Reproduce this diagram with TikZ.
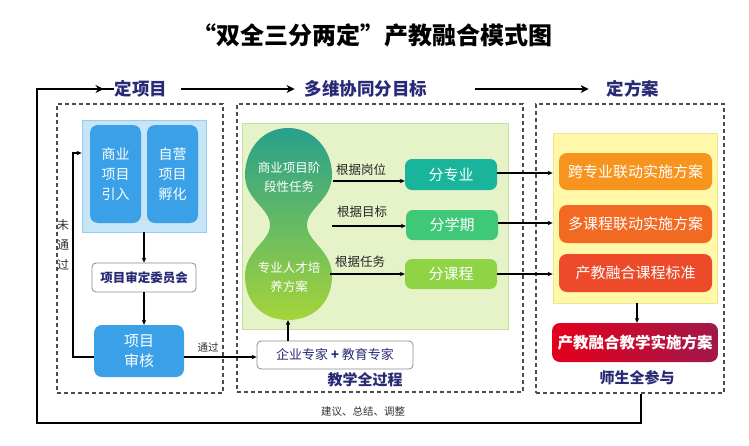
\documentclass[tikz,border=0pt]{standalone}
\usepackage{fontspec}
\setmainfont{Noto Sans CJK SC}
\usetikzlibrary{arrows.meta}
\definecolor{navy}{RGB}{40,42,118}
\definecolor{lbFill}{RGB}{198,230,248}
\definecolor{lbLine}{RGB}{150,205,240}
\definecolor{bBox}{RGB}{58,160,232}
\definecolor{gFill}{RGB}{230,243,200}
\definecolor{gLine}{RGB}{200,222,160}
\definecolor{peaT}{RGB}{40,160,140}
\definecolor{peaM}{RGB}{78,182,100}
\definecolor{peaB}{RGB}{165,212,58}
\definecolor{tealBox}{RGB}{24,180,156}
\definecolor{greenBox}{RGB}{62,200,120}
\definecolor{limeBox}{RGB}{142,212,68}
\definecolor{yFill}{RGB}{255,248,168}
\definecolor{yLine}{RGB}{240,230,140}
\definecolor{or1}{RGB}{247,148,30}
\definecolor{or2}{RGB}{242,106,34}
\definecolor{or3}{RGB}{236,74,40}
\definecolor{redL}{RGB}{228,0,28}
\definecolor{redR}{RGB}{160,24,74}
\begin{document}
\begin{tikzpicture}[x=1pt,y=-1pt,
  dashbox/.style={draw=black!70, dash pattern=on 4pt off 3pt, line width=1.3pt, inner sep=0pt},
  header/.style={text=navy, font=\fontsize{17.5}{17.5}\selectfont\bfseries, inner sep=0pt},
  bigarrow/.style={line width=1.8pt, -{Stealth[length=8pt,width=8pt]}},
  fbline/.style={line width=2.4pt},
  arr/.style={line width=1.2pt, -{Stealth[length=5pt,width=4.5pt]}},
  plain/.style={line width=1.2pt},
  bluebox/.style={fill=bBox, rounded corners=8pt, text=white, align=center, inner sep=0pt, font=\fontsize{14}{20}\selectfont},
  wbox/.style={draw=black!45, fill=white, rounded corners=4pt, line width=0.8pt, inner sep=0pt, align=center},
  gbox/.style={rounded corners=7pt, text=white, inner sep=0pt, minimum width=92pt, font=\fontsize{15}{15}\selectfont},
  obox/.style={rounded corners=8pt, text=white, inner sep=0pt, minimum width=153pt, font=\fontsize{15}{15}\selectfont},
  lbl/.style={text=black!85, inner sep=0pt, font=\fontsize{12.5}{12.5}\selectfont},
  foot/.style={text=navy, inner sep=0pt, font=\fontsize{15}{15}\selectfont\bfseries}
]
\useasboundingbox (0,0) rectangle (749,445);
\fill[white] (0,0) rectangle (749,445);

% title
\node[inner sep=0pt, font=\fontsize{24}{24}\selectfont\bfseries] (title) at (372,35) {“双全三分两定”产教融合模式图};

% headers
\node[header] (hA) at (141,89) {定项目};
\node[header] (hB) at (366,89) {多维协同分目标};
\node[header] (hC) at (633,89) {定方案};
\draw[bigarrow] ([xshift=14pt]hA.east) -- ([xshift=-10pt]hB.west);
\draw[bigarrow] ([xshift=48pt]hB.east) -- ([xshift=-18pt]hC.west);

% dashed boxes
\node[dashbox, minimum width=166pt, minimum height=289pt] (boxL) at (140,248.5) {};
\node[dashbox, minimum width=286pt, minimum height=288pt] (boxM) at (380,248) {};
\node[dashbox, minimum width=188pt, minimum height=289pt] (boxR) at (630,248.5) {};

% left column
\node[fill=lbFill, draw=lbLine, line width=0.8pt, minimum width=124pt, minimum height=112pt, inner sep=0pt] (bluePanel) at (144,176) {};
\node[bluebox, minimum width=51pt, minimum height=98pt] (bizIn) at (115.5,174) {商业\\项目\\引入};
\node[bluebox, minimum width=51pt, minimum height=98pt] (selfIn) at (172.5,174) {自营\\项目\\孵化};
\node[wbox, minimum width=104pt, minimum height=29pt, text=navy, font=\fontsize{12.5}{12.5}\selectfont\bfseries] (committee) at (144,277.5) {项目审定委员会};
\node[bluebox, minimum width=90pt, minimum height=52pt, font=\fontsize{15}{20}\selectfont] (review) at (139,351) {项目\\审核};
\draw[arr] (bluePanel.south) -- (committee.north);
\draw[arr] (committee.south) -- (committee.south |- review.north);
\coordinate (nl) at (73,153);
\draw[arr] ([yshift=-6pt]review.west) -| (nl) -- (nl -| bluePanel.west);
\node[inner sep=0pt, align=center, text=black!80, font=\fontsize{12}{20}\selectfont] (notpass) at (63,245) {未\\通\\过};

% middle column
\node[fill=gFill, draw=gLine, line width=0.8pt, minimum width=266pt, minimum height=206pt, inner sep=0pt] (greenPanel) at (375,226) {};
\shade[top color=peaT, middle color=peaM, bottom color=peaB]
  (288,128) .. controls (314,128) and (332,150) .. (332,175)
  .. controls (332,200) and (307,208) .. (307,225)
  .. controls (307,242) and (332,250) .. (332,276)
  .. controls (332,302) and (314,320) .. (288,320)
  .. controls (262,320) and (245,302) .. (245,276)
  .. controls (245,250) and (270,242) .. (270,225)
  .. controls (270,208) and (245,200) .. (245,175)
  .. controls (245,150) and (262,128) .. (288,128) -- cycle;
\coordinate (pnB) at (288,320);
\node[inner sep=0pt, align=center, text=white, font=\fontsize{12.5}{19}\selectfont] (pTop) at (289,177) {商业项目阶\\段性任务};
\node[inner sep=0pt, align=center, text=white, font=\fontsize{12.5}{19}\selectfont] (pBot) at (289,277) {专业人才培\\养方案};

\node[gbox, fill=tealBox, minimum height=31pt] (b1) at (451,174.5) {分专业};
\node[gbox, fill=greenBox, minimum height=30pt] (b2) at (452,225) {分学期};
\node[gbox, fill=limeBox, minimum height=30pt] (b3) at (451,274) {分课程};

\coordinate (a1) at (333,181);
\coordinate (a2) at (332,226);
\coordinate (a3) at (330,274);
\draw[arr] (a1) -- (a1 -| b1.west);
\draw[arr] (a2) -- (a2 -| b2.west);
\draw[arr] (a3) -- (a3 -| b3.west);
\node[lbl] (l1) at (361,170) {根据岗位};
\node[lbl] (l2) at (362,212) {根据目标};
\node[lbl] (l3) at (360,262) {根据任务};

\node[wbox, minimum width=156pt, minimum height=28pt, text=navy, font=\fontsize{13}{13}\selectfont] (experts) at (335,355) {企业专家 \textbf{+} 教育专家};
\draw[arr] (experts.north -| pnB) -- (pnB);
\draw[arr] ([yshift=-6pt]review.east) -- ([yshift=-6pt]review.east -| experts.west);
\node[inner sep=0pt, text=black!80, font=\fontsize{10.5}{10.5}\selectfont] (pass) at (208,347) {通过};
\node[foot] (whole) at (365,380) {教学全过程};

% right column
\node[fill=yFill, draw=yLine, line width=0.8pt, minimum width=164pt, minimum height=170pt, inner sep=0pt] (yellowPanel) at (635,218) {};
\node[obox, fill=or1, minimum height=37pt] (o1) at (635.5,171.5) {跨专业联动实施方案};
\node[obox, fill=or2, minimum height=38pt] (o2) at (635.5,224) {多课程联动实施方案};
\node[obox, fill=or3, minimum height=38pt] (o3) at (635.5,273) {产教融合课程标准};
\draw[arr] ([yshift=1.5pt]b1.east) -- ([yshift=1.5pt]b1.east -| yellowPanel.west);
\draw[arr] ([yshift=2pt]b2.east) -- ([yshift=2pt]b2.east -| yellowPanel.west);
\draw[arr] (b3.east) -- (b3.east -| yellowPanel.west);

\node[rounded corners=8pt, left color=redL, right color=redR, text=white, inner sep=0pt, minimum width=166pt, minimum height=39pt, font=\fontsize{15.5}{15.5}\selectfont\bfseries] (redBox) at (635,342.5) {产教融合教学实施方案};
\draw[arr] ([xshift=2pt]yellowPanel.south) -- ([xshift=2pt]yellowPanel.south |- redBox.north);
\node[foot] (allin) at (637,378) {师生全参与};

% feedback loop
\coordinate (fbR) at (641,423);
\coordinate (fbL) at (37,423);
\coordinate (fbT) at (37,89);
\draw[fbline] (fbR |- boxR.south) -- (fbR) -- (fbL) -- (fbT) -- ([xshift=-1pt]fbT -| hA.west);
\draw[bigarrow] ([xshift=-30pt]hA.west) -- ([xshift=-11pt]hA.west);
\node[inner sep=0pt, text=black!80, font=\fontsize{10.5}{10.5}\selectfont] (advice) at (363,412) {建议、总结、调整};
\end{tikzpicture}
\end{document}
